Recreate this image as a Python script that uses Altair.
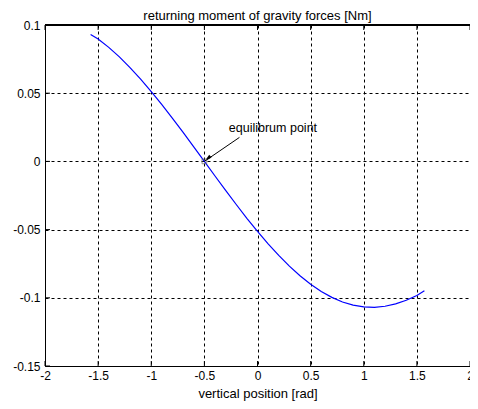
import altair as alt
import pandas as pd

# curve values
pos_rad = [-1.5708, -1.5, -1.4, -1.3, -1.2, -1.1, -1.0, -0.9, -0.8, -0.7, -0.6,
           -0.5, -0.4, -0.3, -0.2, -0.1, 0.0, 0.1, 0.2, 0.3, 0.4, 0.5, 0.6,
           0.7, 0.8, 0.9, 1.0, 1.1, 1.2, 1.3, 1.4, 1.5, 1.5708]
moment_nm = [0.0930, 0.0897, 0.0836, 0.0766, 0.0688, 0.0603, 0.0512, 0.0417,
             0.0316, 0.0213, 0.0107, 0.0, -0.0107, -0.0213, -0.0316, -0.0417,
             -0.0513, -0.0604, -0.0689, -0.0768, -0.0838, -0.0900, -0.0954,
             -0.0997, -0.1031, -0.1054, -0.1067, -0.1070, -0.1062, -0.1045,
             -0.1018, -0.0983, -0.0948]

x_ticks = [-2, -1.5, -1, -0.5, 0, 0.5, 1, 1.5, 2]
y_ticks = [-0.15, -0.1, -0.05, 0, 0.05, 0.1]

eq_point = [-0.5, 0.0]
ann_text_pos = [-0.27, 0.0245]
arrow_start = [-0.17, 0.0176]
ann_label = "equilibrum point"
chart_title = "returning moment of gravity forces [Nm]"

FONT = "Liberation Sans"
W, H = 425, 341

curve = pd.DataFrame({"x": pos_rad, "y": moment_nm})
xt = pd.DataFrame({"x": x_ticks})
yt = pd.DataFrame({"y": y_ticks})
eq = pd.DataFrame({"x": [eq_point[0]], "y": [eq_point[1]]})
arrow = pd.DataFrame({"x": [arrow_start[0]], "y": [arrow_start[1]],
                      "x2": [eq_point[0]], "y2": [eq_point[1]]})
ann = pd.DataFrame({"x": [ann_text_pos[0]], "y": [ann_text_pos[1]], "t": [ann_label]})
ttl = pd.DataFrame({"t": [chart_title]})

xscale = alt.Scale(domain=[-2, 2], nice=False, zero=False)
yscale = alt.Scale(domain=[-0.15, 0.1], nice=False, zero=False)

xaxis = alt.Axis(values=x_ticks, labelExpr="'' + datum.value", title="vertical position [rad]",
                 grid=True, gridColor="#000", gridDash=[3, 3], gridWidth=1,
                 ticks=False, domain=True, domainColor="#000", domainWidth=1,
                 labelFont=FONT, labelFontSize=12, labelColor="#000", labelPadding=4,
                 titleFont=FONT, titleFontSize=13, titleFontWeight="normal", titleColor="#000",
                 titleBaseline="alphabetic", titleY=31,
                 labelFlush=False, labelOverlap=False)
yaxis = alt.Axis(values=y_ticks, labelExpr="'' + datum.value", title=None,
                 grid=True, gridColor="#000", gridDash=[3, 3], gridWidth=1,
                 ticks=False, domain=True, domainColor="#000", domainWidth=1,
                 labelFont=FONT, labelFontSize=12, labelColor="#000", labelPadding=5,
                 labelFlush=False, labelOverlap=False)

line = alt.Chart(curve).mark_line(color="#0000ff", strokeWidth=1.2).encode(
    x=alt.X("x:Q", scale=xscale, axis=xaxis),
    y=alt.Y("y:Q", scale=yscale, axis=yaxis),
)

xtick_bottom = alt.Chart(xt).mark_rule(color="#000", strokeWidth=1).encode(
    x=alt.X("x:Q", scale=xscale), y=alt.value(H), y2=alt.value(H - 5))
xtick_top = alt.Chart(xt).mark_rule(color="#000", strokeWidth=1).encode(
    x=alt.X("x:Q", scale=xscale), y=alt.value(0), y2=alt.value(5))
ytick_left = alt.Chart(yt).mark_rule(color="#000", strokeWidth=1).encode(
    y=alt.Y("y:Q", scale=yscale), x=alt.value(0), x2=alt.value(5))
top_border = alt.Chart(xt).mark_rule(color="#000", strokeWidth=1).encode(
    x=alt.value(0), x2=alt.value(W), y=alt.value(0))

marker = alt.Chart(eq).mark_point(shape="square", filled=False, color="#666",
                                  size=22, strokeWidth=1).encode(
    x=alt.X("x:Q", scale=xscale), y=alt.Y("y:Q", scale=yscale))
arrow_line = alt.Chart(arrow).mark_rule(color="#000", strokeWidth=1).encode(
    x=alt.X("x:Q", scale=xscale), y=alt.Y("y:Q", scale=yscale),
    x2="x2:Q", y2="y2:Q")
arrow_head = alt.Chart(eq).mark_point(shape="M0,0L-0.45,2L0.45,2Z", filled=True,
                                      color="#000", size=64, angle=229, opacity=1).encode(
    x=alt.X("x:Q", scale=xscale), y=alt.Y("y:Q", scale=yscale))
ann_text = alt.Chart(ann).mark_text(align="left", baseline="middle", font=FONT,
                                    fontSize=12.5, color="#000").encode(
    x=alt.X("x:Q", scale=xscale), y=alt.Y("y:Q", scale=yscale), text="t:N")
title_text = alt.Chart(ttl).mark_text(align="center", baseline="alphabetic", font=FONT,
                                      fontSize=13, color="#000").encode(
    x=alt.value(W / 2), y=alt.value(-5), text="t:N")

chart = alt.layer(line, xtick_bottom, xtick_top, ytick_left, top_border,
                  arrow_line, arrow_head, marker, ann_text, title_text).properties(
    width=W, height=H,
    autosize="none",
    padding={"left": 37, "top": 17, "right": 0, "bottom": 35},
).configure_view(stroke=None).configure(background="white")

chart.save("out.html", embed_options={"renderer": "svg", "actions": False})
